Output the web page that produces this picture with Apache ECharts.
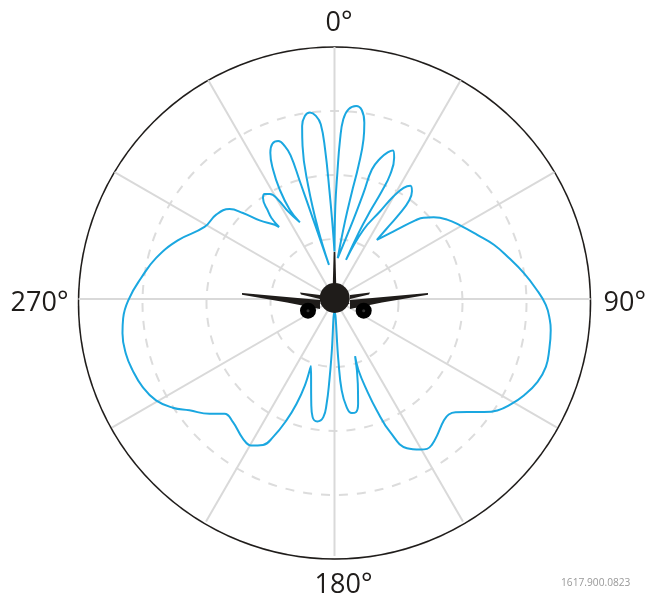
<!DOCTYPE html>
<html>
<head>
<meta charset="utf-8">
<style>
  html, body { margin: 0; padding: 0; background: #fff; }
  #chart { width: 650px; height: 593px; }
</style>
<script src="https://cdn.jsdelivr.net/npm/echarts@6/dist/echarts.min.js"></script>
</head>
<body>
<div id="chart"></div>
<script>
// bearing in degrees
const angles = [
  0, 0.5, 1.3, 2.0, 2.8, 4.2, 6.4, 8.2, 9.6, 10.3, 10.2, 9.2, 7.7, 4.5,
  13.4, 15.3, 16.1, 18.0, 20.2, 21.5, 22.9, 24.1, 23.7, 22.1, 20.0, 16.4,
  22.7, 27.5, 29.9, 31.9, 33.8, 35.7, 37.2, 37.4, 36.7, 35.6,
  42.0, 45.8, 47.6, 50.5, 54.8, 59.8, 65.8, 71.2, 76.8, 82.3, 87.0, 91.6, 95.6, 98.2,
  103.4, 107.8, 112.2, 116.9, 120.9, 124.4, 127.1, 130.4, 133.1, 135.3, 138.0,
  143.1, 146.2, 148.3, 150.3, 154.1, 157.3, 159.2, 160.5, 161.4, 160.2,
  164.6, 167.3, 169.2, 171.4, 173.6, 175.5, 176.4, 180,
  183, 183.6, 184.3, 185.4, 188.0, 190.5, 192.5, 199.4,
  198.9, 199.9, 201.6, 204.0, 206.1, 209.6, 213.2, 219.5, 223.8, 227.4,
  232.5, 236.1, 240.4, 245.4, 250.6, 255.3, 260.8, 264.8, 270.2, 276.1, 282.9, 290.5,
  299, 305.5, 310.6, 313.2, 316.4, 321.2, 322.4,
  322.1, 322.9, 324.7, 326.4, 328.4, 330.4, 332.1, 335.7,
  333.4, 333.4, 334.6, 336.3, 338.2, 340.4, 342.0, 343.0, 343.6, 345.0, 350.8,
  346.8, 346.9, 348.2, 349.4, 350.8, 352.5, 354.2, 355.5, 356.4, 357.3, 358.4, 360
];
const levels = [
  0.74, 1.443, 1.964, 2.486, 2.80, 2.96, 3.024, 2.973, 2.784, 2.525, 2.10, 1.672, 1.219, 0.637,
  1.269, 1.711, 2.097, 2.30, 2.441, 2.485, 2.386, 2.123, 1.832, 1.473, 1.092, 0.635,
  1.168, 1.539, 1.844, 2.036, 2.123, 2.066, 1.909, 1.685, 1.409, 1.133,
  1.451, 1.755, 1.878, 2.0, 2.144, 2.269, 2.436, 2.621, 2.79, 2.978, 3.137, 3.29, 3.368, 3.40,
  3.435, 3.455, 3.413, 3.31, 3.195, 3.071, 2.917, 2.714, 2.578, 2.528, 2.543,
  2.658, 2.727, 2.742, 2.698, 2.582, 2.247, 1.855, 1.508, 1.17, 0.946,
  1.367, 1.671, 1.792, 1.796, 1.693, 1.426, 0.955, 0.2,
  0.85, 1.268, 1.635, 1.847, 1.925, 1.87, 1.67, 1.105,
  1.421, 1.734, 2.033, 2.354, 2.529, 2.623, 2.60, 2.484, 2.474, 2.641,
  2.847, 3.034, 3.195, 3.286, 3.333, 3.357, 3.343, 3.303, 3.195, 3.03, 2.851, 2.604,
  2.313, 2.261, 2.151, 1.955, 1.689, 1.484, 1.413,
  1.597, 1.712, 1.926, 1.963, 1.921, 1.778, 1.544, 1.309,
  1.555, 1.904, 2.231, 2.485, 2.603, 2.61, 2.503, 2.337, 1.911, 1.278, 0.538,
  1.107, 1.802, 2.432, 2.739, 2.886, 2.926, 2.864, 2.727, 2.333, 1.705, 1.182, 0.74
];
// the spokes start at the aircraft, which sits a little above the middle of the rings,
// so each one has its own length to reach the outer circle
const spokeAngles = [0, 30, 60, 90, 120, 150, 180, 210, 240, 270, 300, 330];
const spokeEnds = [3.922, 3.93, 3.953, 3.984, 4.016, 4.039, 4.047, 4.039, 4.016, 3.984, 3.953, 3.93];
const angleLabels = { 0: '{top|0°}', 90: '{right|90°}', 180: '{bottom|180°}', 270: '270°' };

const chart = echarts.init(document.getElementById('chart'));
const dark = '#1f1c1a';
const labelStyle = { fontFamily: 'Open Sans', fontSize: 27, color: dark };

function poly(points, fill) {
  return { type: 'polygon', z: 100, shape: { points: points }, style: { fill: fill || dark } };
}
function dot(x, y, r, fill) {
  return { type: 'circle', z: 100, shape: { cx: x, cy: y, r: r }, style: { fill: fill } };
}

const spokes = spokeAngles.map((a, i) => ({
  type: 'line',
  coordinateSystem: 'polar',
  polarIndex: 1,
  data: [[0, a], [spokeEnds[i], a]],
  symbol: 'none',
  silent: true,
  z: 1,
  lineStyle: { color: '#d9d9d9', width: 2 }
}));

chart.setOption({
  animation: false,
  backgroundColor: '#fff',
  polar: [
    { center: [334.5, 303], radius: 256 }, // rings and outer circle
    { center: [334.5, 299], radius: 257 }  // curve and spokes, around the aircraft
  ],
  angleAxis: [
    {
      polarIndex: 0,
      type: 'value',
      min: 0,
      max: 360,
      interval: 30,
      startAngle: 90,
      axisLine: { lineStyle: { color: dark, width: 1.5 } },
      axisTick: { show: false },
      axisLabel: Object.assign({}, labelStyle, {
        margin: 10,
        formatter: v => angleLabels[v] || '',
        rich: {
          top: Object.assign({}, labelStyle, { padding: [0, 0, 0, 9] }),
          right: Object.assign({}, labelStyle, { padding: [0, 0, 0, 3] }),
          bottom: Object.assign({}, labelStyle, { padding: [3, 0, 0, 18] })
        }
      }),
      splitLine: { show: false }
    },
    { polarIndex: 1, type: 'value', min: 0, max: 360, startAngle: 90, show: false }
  ],
  radiusAxis: [
    {
      polarIndex: 0,
      min: 0,
      max: 4,
      interval: 1,
      axisLine: { show: false },
      axisTick: { show: false },
      axisLabel: { show: false },
      splitLine: { show: true, lineStyle: { color: '#dcdcdc', width: 2, type: [9, 9] } }
    },
    { polarIndex: 1, min: 0, max: 4, show: false }
  ],
  series: spokes.concat([{
    type: 'line',
    coordinateSystem: 'polar',
    polarIndex: 1,
    data: angles.map((a, i) => [levels[i], a]),
    symbol: 'none',
    smooth: 0.45,
    z: 5,
    lineStyle: { color: '#1aa7e0', width: 2 }
  }]),
  graphic: [
    // aircraft silhouette
    poly([[333.7, 252], [335.3, 252], [336.2, 284], [332.8, 284]]),
    poly([[242, 293], [320, 300], [320, 309], [287, 302.5], [242, 294.8]]),
    poly([[428, 293], [350, 300], [350, 309], [382, 302.5], [428, 294.8]]),
    poly([[300, 292.5], [320, 295], [320, 299], [301, 294.5]]),
    poly([[370, 292.5], [350, 295], [350, 299], [369, 294.5]]),
    poly([[320, 303], [334.7, 312.5], [350, 303]]),
    dot(334.7, 298, 15, dark),
    dot(308, 310.7, 8, '#000'),
    dot(363.7, 310.7, 8, '#000'),
    dot(308, 310.7, 1.5, '#333'),
    dot(363.7, 310.7, 1.5, '#333'),
    {
      type: 'text',
      z: 100,
      x: 561,
      y: 578,
      style: { text: '1617.900.0823', fontFamily: 'Open Sans', fontSize: 10.2, fill: '#999' }
    }
  ]
});
</script>
</body>
</html>
